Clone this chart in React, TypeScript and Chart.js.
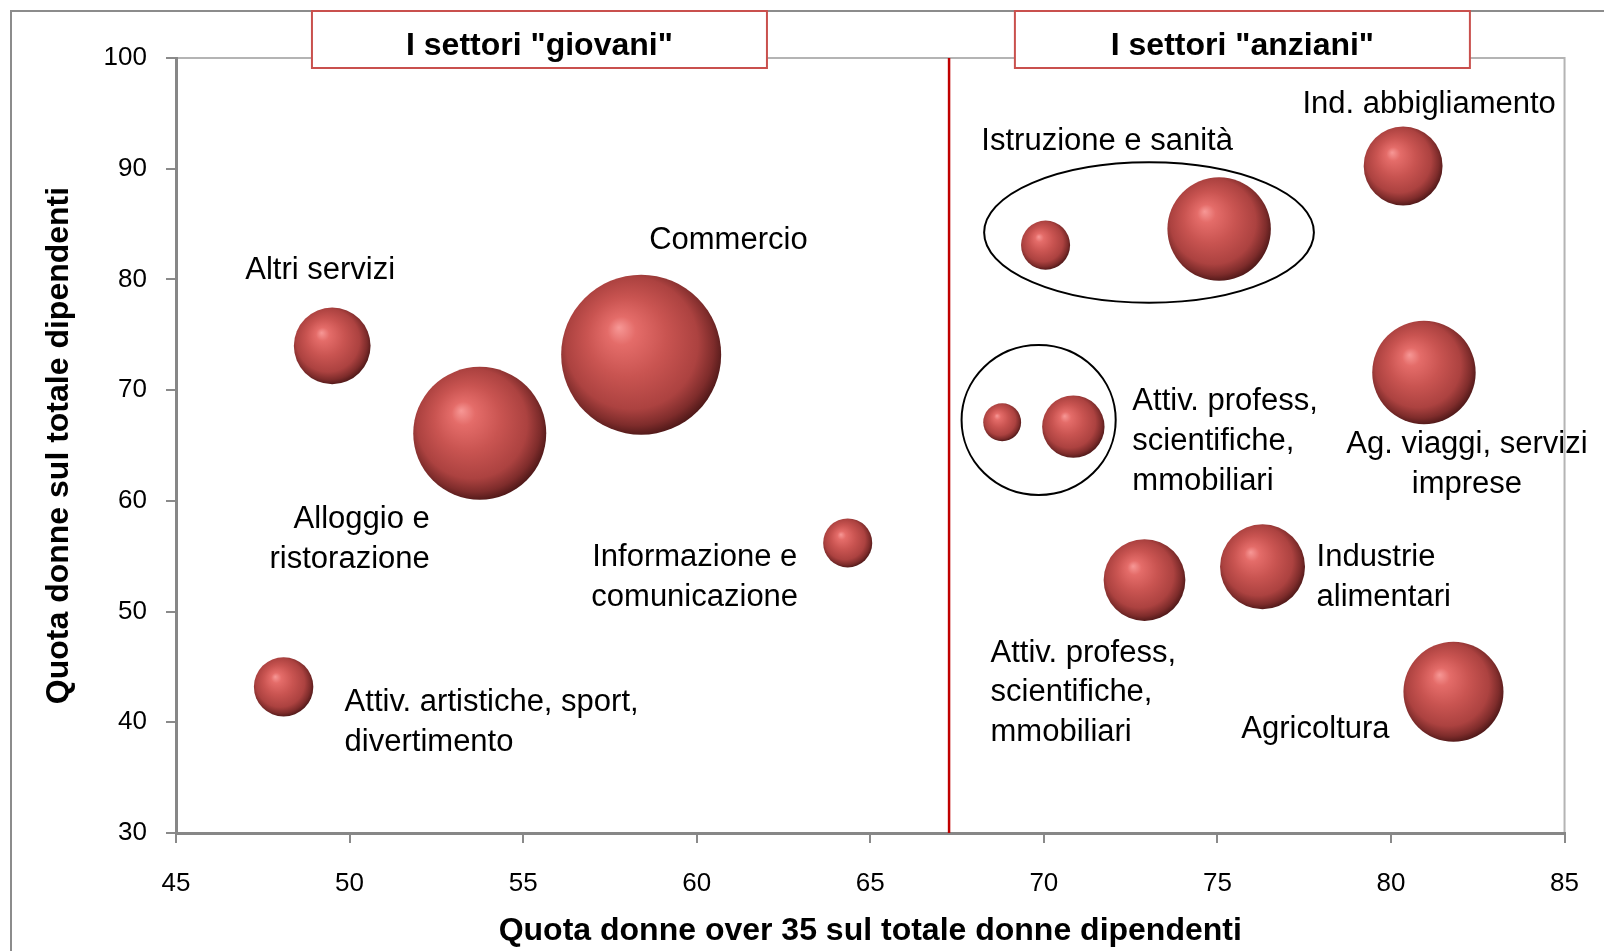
import React, { useEffect, useRef } from "react";
import { Chart, registerables } from "chart.js";

Chart.register(...registerables);

// ---- Data ----
const SETTORI = [
  "Altri servizi",
  "Alloggio e ristorazione",
  "Commercio",
  "Informazione e comunicazione",
  "Attiv. artistiche, sport, divertimento",
  "Istruzione",
  "Sanità",
  "Ind. abbigliamento",
  "Attiv. immobiliari",
  "Attiv. profess, scientifiche",
  "Ag. viaggi, servizi imprese",
  "Attiv. profess, scientifiche, mmobiliari",
  "Industrie alimentari",
  "Agricoltura",
];
// Quota donne over 35 sul totale donne dipendenti
const QUOTA_OVER35 = [49.5, 53.75, 58.4, 64.35, 48.1, 70.05, 75.05, 80.35, 68.8, 70.85, 80.95, 72.9, 76.3, 81.8];
// Quota donne sul totale dipendenti
const QUOTA_DONNE = [74.0, 66.1, 73.2, 56.2, 43.2, 83.1, 84.55, 90.25, 67.1, 66.7, 71.6, 52.85, 54.05, 42.75];
// Dimensione (peso relativo, area della bolla)
const DIMENSIONE = [230, 691, 1000, 94, 138, 94, 418, 243, 56, 152, 418, 261, 282, 391];

const SOGLIA = 67.27; // separazione settori "giovani" / "anziani"
const X_TICKS = [45, 85, 5];
const Y_TICKS = [30, 100, 10];

const TITOLO_X = "Quota donne over 35 sul totale donne dipendenti";
const TITOLO_Y = "Quota donne sul totale dipendenti";
const BOX_GIOVANI = 'I settori "giovani"';
const BOX_ANZIANI = 'I settori "anziani"';

// ---- Layout / style (not data) ----
const FONT = "'Liberation Sans', Arial, Helvetica, sans-serif";
const R_MAX = 80;
const LINE_H = 39.8;
const AREA = { left: 176, top: 58, right: 1569, bottom: 833 };

// labels: anchor bubble index, pixel offset of first line, alignment
const LABELS = [
  { i: 0, lines: ["Altri servizi"], dx: -87, dy: -76, align: "left" },
  { i: 2, lines: ["Commercio"], dx: 8, dy: -115, align: "left" },
  { i: 1, lines: ["Alloggio e", "ristorazione"], dx: -50, dy: 85, align: "right" },
  { i: 3, lines: ["Informazione e", "comunicazione"], dx: -153, dy: 14, align: "center" },
  { i: 4, lines: ["Attiv. artistiche, sport,", "divertimento"], dx: 61, dy: 15, align: "left" },
  { i: 6, lines: ["Istruzione e sanità"], dx: -112, dy: -89, align: "center" },
  { i: 7, lines: ["Ind. abbigliamento"], dx: 26, dy: -62, align: "center" },
  { i: 9, lines: ["Attiv. profess,", "scientifiche,", "mmobiliari"], dx: 59, dy: -26, align: "left" },
  { i: 10, lines: ["Ag. viaggi, servizi", "imprese"], dx: 43, dy: 71, align: "center" },
  { i: 12, lines: ["Industrie", "alimentari"], dx: 54, dy: -10, align: "left" },
  { i: 11, lines: ["Attiv. profess,", "scientifiche,", "mmobiliari"], dx: -154, dy: 72, align: "left" },
  { i: 13, lines: ["Agricoltura"], dx: -138, dy: 37, align: "center" },
];

// ellipses grouping bubbles (data coordinates: cx, cy, rx, ry)
const ELLISSI = [
  [73.03, 84.24, 4.75, 6.34],
  [69.85, 67.3, 2.22, 6.77],
];

// header boxes (data-x centre)
const BOXES = [
  { text: BOX_GIOVANI, cx: 55.47 },
  { text: BOX_ANZIANI, cx: 75.72 },
];

const BASE = "#c0504d";

const sphereFill = (c: any) => {
  const chart = c.chart;
  const raw = c.raw;
  if (!raw || !chart.scales || !chart.scales.x || !chart.scales.y) return BASE;
  const x = chart.scales.x.getPixelForValue(raw.x);
  const y = chart.scales.y.getPixelForValue(raw.y);
  const r = raw.r;
  if (![x, y, r].every((v) => typeof v === "number" && isFinite(v)) || r <= 0) return BASE;
  const g = chart.ctx.createRadialGradient(x - 0.28 * r, y - 0.34 * r, 0, x - 0.06 * r, y - 0.08 * r, 1.1 * r);
  g.addColorStop(0, "#f79896");
  g.addColorStop(0.16, "#e46c69");
  g.addColorStop(0.45, "#c95451");
  g.addColorStop(0.75, "#ac4240");
  g.addColorStop(0.9, "#7e2c2b");
  g.addColorStop(1, "#4e1818");
  return g;
};

const decorPlugin = {
  id: "decor",
  beforeDraw(chart: any) {
    const { ctx, chartArea: a } = chart;
    ctx.save();
    ctx.fillStyle = "#ffffff";
    ctx.fillRect(0, 0, chart.width, chart.height);
    // outer frame
    ctx.strokeStyle = "#8c8c8c";
    ctx.lineWidth = 2;
    ctx.beginPath();
    ctx.moveTo(11, chart.height + 5);
    ctx.lineTo(11, 11);
    ctx.lineTo(chart.width + 5, 11);
    ctx.stroke();
    // plot area frame
    ctx.strokeStyle = "#b4b4b4";
    ctx.lineWidth = 2;
    ctx.strokeRect(a.left, a.top, a.right - a.left, a.bottom - a.top);
    ctx.restore();
  },
  afterDraw(chart: any) {
    const { ctx, chartArea: a } = chart;
    const xs = chart.scales.x;
    const ys = chart.scales.y;
    ctx.save();
    // ellipses
    ctx.strokeStyle = "#000";
    ctx.lineWidth = 2;
    ELLISSI.forEach(([cx, cy, rx, ry]) => {
      const px = xs.getPixelForValue(cx);
      const py = ys.getPixelForValue(cy);
      const prx = xs.getPixelForValue(cx + rx) - px;
      const pry = py - ys.getPixelForValue(cy + ry);
      ctx.beginPath();
      ctx.ellipse(px, py, prx, pry, 0, 0, Math.PI * 2);
      ctx.stroke();
    });
    // labels
    ctx.fillStyle = "#000";
    ctx.font = `31px ${FONT}`;
    ctx.textBaseline = "middle";
    LABELS.forEach((l) => {
      const bx = xs.getPixelForValue(QUOTA_OVER35[l.i]);
      const by = ys.getPixelForValue(QUOTA_DONNE[l.i]);
      ctx.textAlign = l.align as CanvasTextAlign;
      l.lines.forEach((t, k) => {
        ctx.fillText(t, bx + l.dx, by + l.dy + k * LINE_H + 1);
      });
    });
    // header boxes
    BOXES.forEach((b) => {
      const cx = xs.getPixelForValue(b.cx);
      const w = 455;
      const top = a.top - 47;
      const h = 57;
      ctx.fillStyle = "#fff";
      ctx.fillRect(cx - w / 2, top, w, h);
      ctx.strokeStyle = "#c9504d";
      ctx.lineWidth = 2;
      ctx.strokeRect(cx - w / 2, top, w, h);
      ctx.fillStyle = "#000";
      ctx.font = `bold 32px ${FONT}`;
      ctx.textAlign = "center";
      ctx.textBaseline = "alphabetic";
      ctx.fillText(b.text, cx, top + 44);
    });
    ctx.restore();
  },
};

export default function App() {
  const ref = useRef<HTMLCanvasElement | null>(null);
  useEffect(() => {
    if (!ref.current) return;
    const maxDim = Math.max(...DIMENSIONE);
    const bubbles = QUOTA_OVER35.map((x, i) => ({
      x,
      y: QUOTA_DONNE[i],
      r: R_MAX * Math.sqrt(DIMENSIONE[i] / maxDim),
      label: SETTORI[i],
    }));
    const tickFont = { family: FONT, size: 26 };
    const titleFont = { family: FONT, size: 32, weight: "bold" as const };
    const pad = { left: 0, top: AREA.top, right: 1604 - AREA.right, bottom: 0 };
    const chart = new Chart(ref.current, {
      type: "bubble",
      data: {
        datasets: [
          {
            type: "scatter" as any,
            label: "soglia",
            data: [
              { x: SOGLIA, y: Y_TICKS[0] },
              { x: SOGLIA, y: Y_TICKS[1] },
            ],
            showLine: true,
            borderColor: "#c00000",
            borderWidth: 2.5,
            pointRadius: 0,
            order: 2,
          } as any,
          {
            label: "Settori",
            data: bubbles as any,
            backgroundColor: sphereFill as any,
            borderWidth: 0,
            order: 1,
            clip: false,
          } as any,
        ],
      },
      options: {
        animation: false,
        responsive: false,
        devicePixelRatio: 1,
        events: [],
        layout: { autoPadding: false, padding: { ...pad } },
        plugins: { legend: { display: false }, tooltip: { enabled: false } },
        scales: {
          x: {
            type: "linear",
            min: X_TICKS[0],
            max: X_TICKS[1],
            ticks: { stepSize: X_TICKS[2], font: tickFont, color: "#000", padding: 25, maxRotation: 0 },
            grid: { display: true, drawOnChartArea: false, drawTicks: true, tickLength: 10, color: "#8a8a8a", lineWidth: 2 },
            border: { display: true, color: "#878787", width: 3 },
            title: { display: true, text: TITOLO_X, font: titleFont, color: "#000", padding: { top: 0, bottom: 1 } },
            afterFit: (s: any) => {
              s.height = 951 - AREA.bottom;
            },
          },
          y: {
            type: "linear",
            min: Y_TICKS[0],
            max: Y_TICKS[1],
            ticks: { stepSize: Y_TICKS[2], font: tickFont, color: "#000", padding: 19 },
            grid: { display: true, drawOnChartArea: false, drawTicks: true, tickLength: 10, color: "#8a8a8a", lineWidth: 2 },
            border: { display: true, color: "#878787", width: 3 },
            title: { display: true, text: TITOLO_Y, font: titleFont, color: "#000", padding: { top: 40, bottom: 0 } },
            afterFit: (s: any) => {
              s.width = AREA.left;
            },
          },
        },
      },
      plugins: [decorPlugin],
    });
    // align plot area to the reference frame
    for (let k = 0; k < 6; k++) {
      const a = chart.chartArea;
      const dT = AREA.top - a.top;
      const dR = a.right - AREA.right;
      const dL = AREA.left - a.left;
      const dB = a.bottom - AREA.bottom;
      if (Math.abs(dT) < 0.5 && Math.abs(dR) < 0.5 && Math.abs(dL) < 0.5 && Math.abs(dB) < 0.5) break;
      pad.top += dT;
      pad.right += dR;
      pad.left += dL;
      pad.bottom += dB;
      (chart.options as any).layout.padding = { ...pad };
      chart.update();
    }
    return () => chart.destroy();
  }, []);
  return (
    <div style={{ position: "fixed", left: 0, top: 0, width: 1604, height: 951, overflow: "hidden", background: "#fff" }}>
      <canvas ref={ref} width={1604} height={951} style={{ display: "block" }} />
    </div>
  );
}
